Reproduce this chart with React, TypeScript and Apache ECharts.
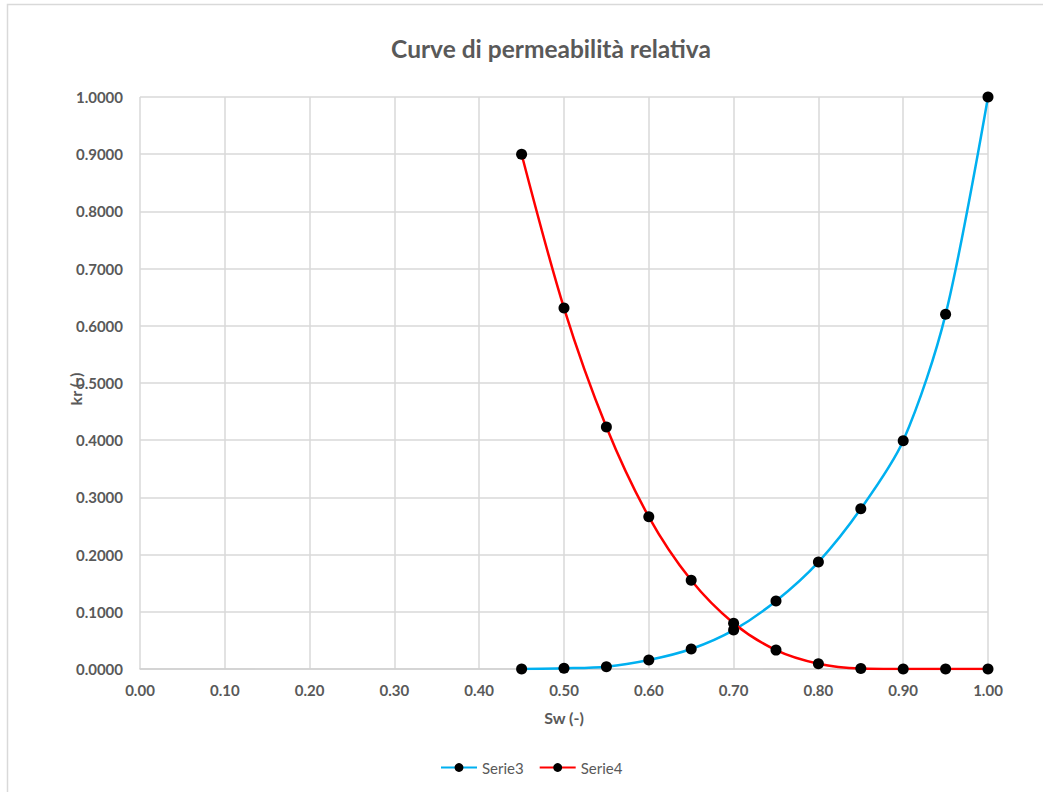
import React, { useEffect, useRef } from "react";
import * as echarts from "echarts";

const sw = [0.45, 0.5, 0.55, 0.6, 0.65, 0.7, 0.75, 0.8, 0.85, 0.9, 0.95, 1.0];
const serie3 = [0.0, 0.0012, 0.004, 0.0157, 0.035, 0.068, 0.119, 0.187, 0.28, 0.399, 0.62, 1.0];
const serie4 = [0.9, 0.631, 0.423, 0.266, 0.155, 0.08, 0.033, 0.0093, 0.0008, 0.0, 0.0, 0.0];

const titleText = "Curve di permeabilità relativa";
const xName = "Sw (-)";
const yName = "kr (-)";
const seriesNames = ["Serie3", "Serie4"];

const FONT = "Lato, 'Open Sans', sans-serif";
const GRAY = "#595959";

export default function App() {
  const ref = useRef<HTMLDivElement>(null);
  useEffect(() => {
    if (!ref.current) return;
    const chart = echarts.init(ref.current, null, { renderer: "svg" });
    const mk = (arr: number[]) => sw.map((x, i) => [x, arr[i]]);
    chart.setOption({
      animation: false,
      backgroundColor: "#ffffff",
      textStyle: { fontFamily: FONT },
      graphic: [
        {
          type: "rect",
          shape: { x: 7.5, y: 4.5, width: 1200, height: 1000 },
          style: { fill: "none", stroke: "#d9d9d9", lineWidth: 1.5 },
          silent: true,
          z: -1,
        },
        {
          type: "text",
          x: 551,
          y: 48,
          style: {
            text: titleText,
            fill: GRAY,
            font: `bold 24.5px ${FONT}`,
            align: "center",
            verticalAlign: "middle",
          },
        },
        {
          type: "text",
          x: 75,
          y: 389,
          rotation: Math.PI / 2,
          style: {
            text: yName,
            fill: GRAY,
            font: `bold 16px ${FONT}`,
            align: "center",
            verticalAlign: "middle",
          },
        },
      ],
      legend: {
        top: 760,
        left: 440,
        padding: 0,
        itemWidth: 36,
        itemHeight: 11,
        itemGap: 15,
        textStyle: { fontFamily: FONT, fontSize: 15, color: GRAY },
        data: seriesNames,
      },
      grid: { left: 140, right: 55, top: 97, bottom: 123, containLabel: false },
      xAxis: {
        type: "value",
        min: 0,
        max: 1,
        interval: 0.1,
        name: xName,
        nameLocation: "middle",
        nameGap: 40,
        nameTextStyle: { fontFamily: FONT, fontSize: 16, fontWeight: "bold", color: GRAY },
        axisLine: { show: true, lineStyle: { color: "#d0d0d0", width: 1.5 } },
        axisTick: { show: false },
        axisLabel: {
          margin: 13,
          fontFamily: FONT,
          fontSize: 15,
          fontWeight: "bold",
          color: GRAY,
          formatter: (v: number) => v.toFixed(2),
        },
        splitLine: { show: true, lineStyle: { color: "#d9d9d9", width: 1.5 } },
      },
      yAxis: {
        type: "value",
        min: 0,
        max: 1,
        interval: 0.1,
        axisLine: { show: false },
        axisTick: { show: false },
        axisLabel: {
          margin: 17,
          fontFamily: FONT,
          fontSize: 15,
          fontWeight: "bold",
          color: GRAY,
          formatter: (v: number) => v.toFixed(4),
        },
        splitLine: { show: true, lineStyle: { color: "#d9d9d9", width: 1.5 } },
      },
      series: [
        {
          name: seriesNames[0],
          type: "line",
          data: mk(serie3),
          smooth: 0.3,
          symbol: "circle",
          symbolSize: 11,
          itemStyle: { color: "#000000" },
          lineStyle: { color: "#00B0F0", width: 2.5 },
          z: 3,
        },
        {
          name: seriesNames[1],
          type: "line",
          data: mk(serie4),
          smooth: 0.3,
          symbol: "circle",
          symbolSize: 11,
          itemStyle: { color: "#000000" },
          lineStyle: { color: "#FF0000", width: 2.5 },
          z: 3,
        },
      ],
    });
    return () => chart.dispose();
  }, []);
  return (
    <div
      ref={ref}
      style={{ position: "fixed", left: 0, top: 0, width: 1043, height: 792 }}
    />
  );
}
